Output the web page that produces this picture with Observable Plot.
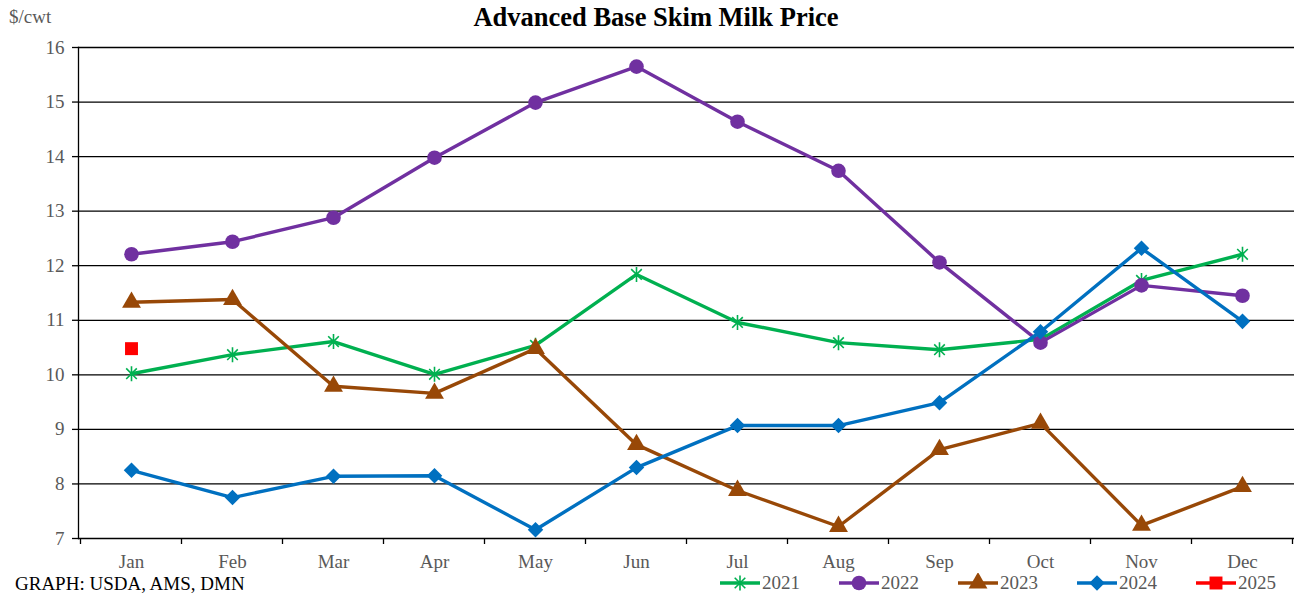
<!DOCTYPE html>
<html>
<head>
<meta charset="utf-8">
<script src="https://cdn.jsdelivr.net/npm/d3@7"></script>
<script src="https://cdn.jsdelivr.net/npm/@observablehq/plot@0.6"></script>
<style>
  html, body { margin: 0; padding: 0; background: #fff; }
  #wrap { position: relative; width: 1297px; height: 595px; font-family: "Liberation Serif", "Times New Roman", serif; }
  #title { position: absolute; top: 2px; left: 656px; transform: translateX(-50%); font-size: 26.5px; font-weight: bold; color: #000; white-space: nowrap; }
  #unit { position: absolute; top: 6px; left: 9px; font-size: 19px; color: #595959; }
  #caption { position: absolute; top: 573px; left: 15px; font-size: 19px; color: #000; white-space: nowrap; }
  #legend { position: absolute; top: 572px; left: 720px; display: flex; font-size: 19px; color: #595959; }
  #legend .item { display: flex; align-items: center; width: 119px; }
  #legend svg { display: block; margin-right: 2px; }
  #chart { position: absolute; top: 0; left: 0; }
</style>
</head>
<body>
<div id="wrap">
  <div id="chart"></div>
  <div id="title">Advanced Base Skim Milk Price</div>
  <div id="unit">$/cwt</div>
  <div id="caption">GRAPH: USDA, AMS, DMN</div>
  <div id="legend"></div>
</div>
<script>
// Monthly advanced base skim milk price, $/cwt
const months = ["Jan", "Feb", "Mar", "Apr", "May", "Jun", "Jul", "Aug", "Sep", "Oct", "Nov", "Dec"];
const yTicks = [7, 8, 9, 10, 11, 12, 13, 14, 15, 16];

const price2021 = [10.02, 10.37, 10.61, 10.01, 10.54, 11.84, 10.96, 10.59, 10.46, 10.65, 11.73, 12.21];
const price2022 = [12.21, 12.44, 12.88, 13.98, 14.99, 15.65, 14.64, 13.74, 12.06, 10.59, 11.64, 11.45];
const price2023 = [11.33, 11.38, 9.79, 9.66, 10.48, 8.72, 7.88, 7.22, 8.63, 9.11, 7.24, 7.95];
const price2024 = [8.25, 7.75, 8.14, 8.15, 7.16, 8.30, 9.07, 9.07, 9.49, 10.79, 12.32, 10.98];
const price2025 = [10.48];

// Excel-style star marker: a vertical stroke crossed by two diagonals
const star = {
  draw(context, size) {
    const r = Math.sqrt(size / Math.PI);
    const d = r * Math.SQRT1_2;
    context.moveTo(0, -r); context.lineTo(0, r);
    context.moveTo(-d, -d); context.lineTo(d, d);
    context.moveTo(-d, d); context.lineTo(d, -d);
  }
};

const seriesDefs = [
  {year: "2021", values: price2021, color: "#00b050", symbol: star, r: 7.5, filled: false},
  {year: "2022", values: price2022, color: "#7030a0", symbol: "circle", r: 7.3, filled: true},
  {year: "2023", values: price2023, color: "#984807", symbol: "triangle", r: 7, filled: true},
  {year: "2024", values: price2024, color: "#0070c0", symbol: "diamond2", r: 7, filled: true},
  {year: "2025", values: price2025, color: "#ff0000", symbol: "square", r: 7.3, filled: true}
];

const rows = (s) => s.values.map((v, i) => ({month: months[i], value: v, year: s.year}));

const seriesMarks = seriesDefs.flatMap((s) => {
  const data = rows(s);
  const marks = [];
  if (data.length > 1) {
    marks.push(Plot.line(data, {x: "month", y: "value", stroke: s.color, strokeWidth: 3.4, strokeLinejoin: "round"}));
  }
  marks.push(Plot.dot(data, s.filled
    ? {x: "month", y: "value", symbol: () => s.symbol, r: s.r, fill: s.color, stroke: "none"}
    : {x: "month", y: "value", symbol: () => s.symbol, r: s.r, fill: "none", stroke: s.color, strokeWidth: 1.6}));
  return marks;
});

// Tick marks at the boundaries between month categories
const bandTicks = (index, scales, values, dimensions) => {
  const x = scales.x, y = scales.y;
  const step = x(months[1]) - x(months[0]);
  const edges = months.map((m) => x(m) - step / 2).concat([x(months[months.length - 1]) + step / 2]);
  const g = d3.create("svg:g").attr("stroke", "#000").attr("stroke-width", 1.3);
  g.selectAll("line").data(edges).join("line")
    .attr("x1", (d) => d).attr("x2", (d) => d)
    .attr("y1", y(7)).attr("y2", y(7) + 6);
  return g.node();
};

const chart = Plot.plot({
  width: 1297,
  height: 595,
  marginTop: 47,
  marginBottom: 57,
  marginLeft: 78,
  marginRight: 3,
  style: {fontFamily: "Liberation Serif, Times New Roman, serif", fontSize: "19px", background: "#fff"},
  x: {type: "point", domain: months, padding: 0.5},
  y: {domain: [7, 16]},
  marks: [
    Plot.ruleY(yTicks, {stroke: "#000", strokeWidth: 1.3}),
    Plot.frame({anchor: "left", stroke: "#000", strokeWidth: 1.3}),
    bandTicks,
    Plot.axisY({ticks: yTicks, tickSize: 6, tickPadding: 8, stroke: "#000", strokeWidth: 1.3, fill: "#595959", fontSize: 19, label: null, tickFormat: (d) => String(d)}),
    Plot.axisX({tickSize: 0, tickPadding: 16, fill: "#595959", fontSize: 19, label: null}),
    ...seriesMarks
  ]
});
document.getElementById("chart").appendChild(chart);

// Legend: line swatch with the series marker
const symbolTypes = {circle: d3.symbolCircle, triangle: d3.symbolTriangle, diamond2: d3.symbolDiamond2, square: d3.symbolSquare};
const legend = d3.select("#legend");
seriesDefs.forEach((s) => {
  const item = legend.append("div").attr("class", "item");
  const sw = item.append("svg").attr("width", 40).attr("height", 20);
  sw.append("line").attr("x1", 0).attr("x2", 40).attr("y1", 10).attr("y2", 10)
    .attr("stroke", s.color).attr("stroke-width", 3.4);
  const symObj = typeof s.symbol === "string" ? symbolTypes[s.symbol] : s.symbol;
  const path = d3.symbol(symObj, Math.PI * s.r * s.r)();
  const p = sw.append("path").attr("d", path).attr("transform", "translate(20,10)");
  if (s.filled) p.attr("fill", s.color);
  else p.attr("fill", "none").attr("stroke", s.color).attr("stroke-width", 1.6);
  item.append("span").text(s.year);
});
</script>
</body>
</html>
